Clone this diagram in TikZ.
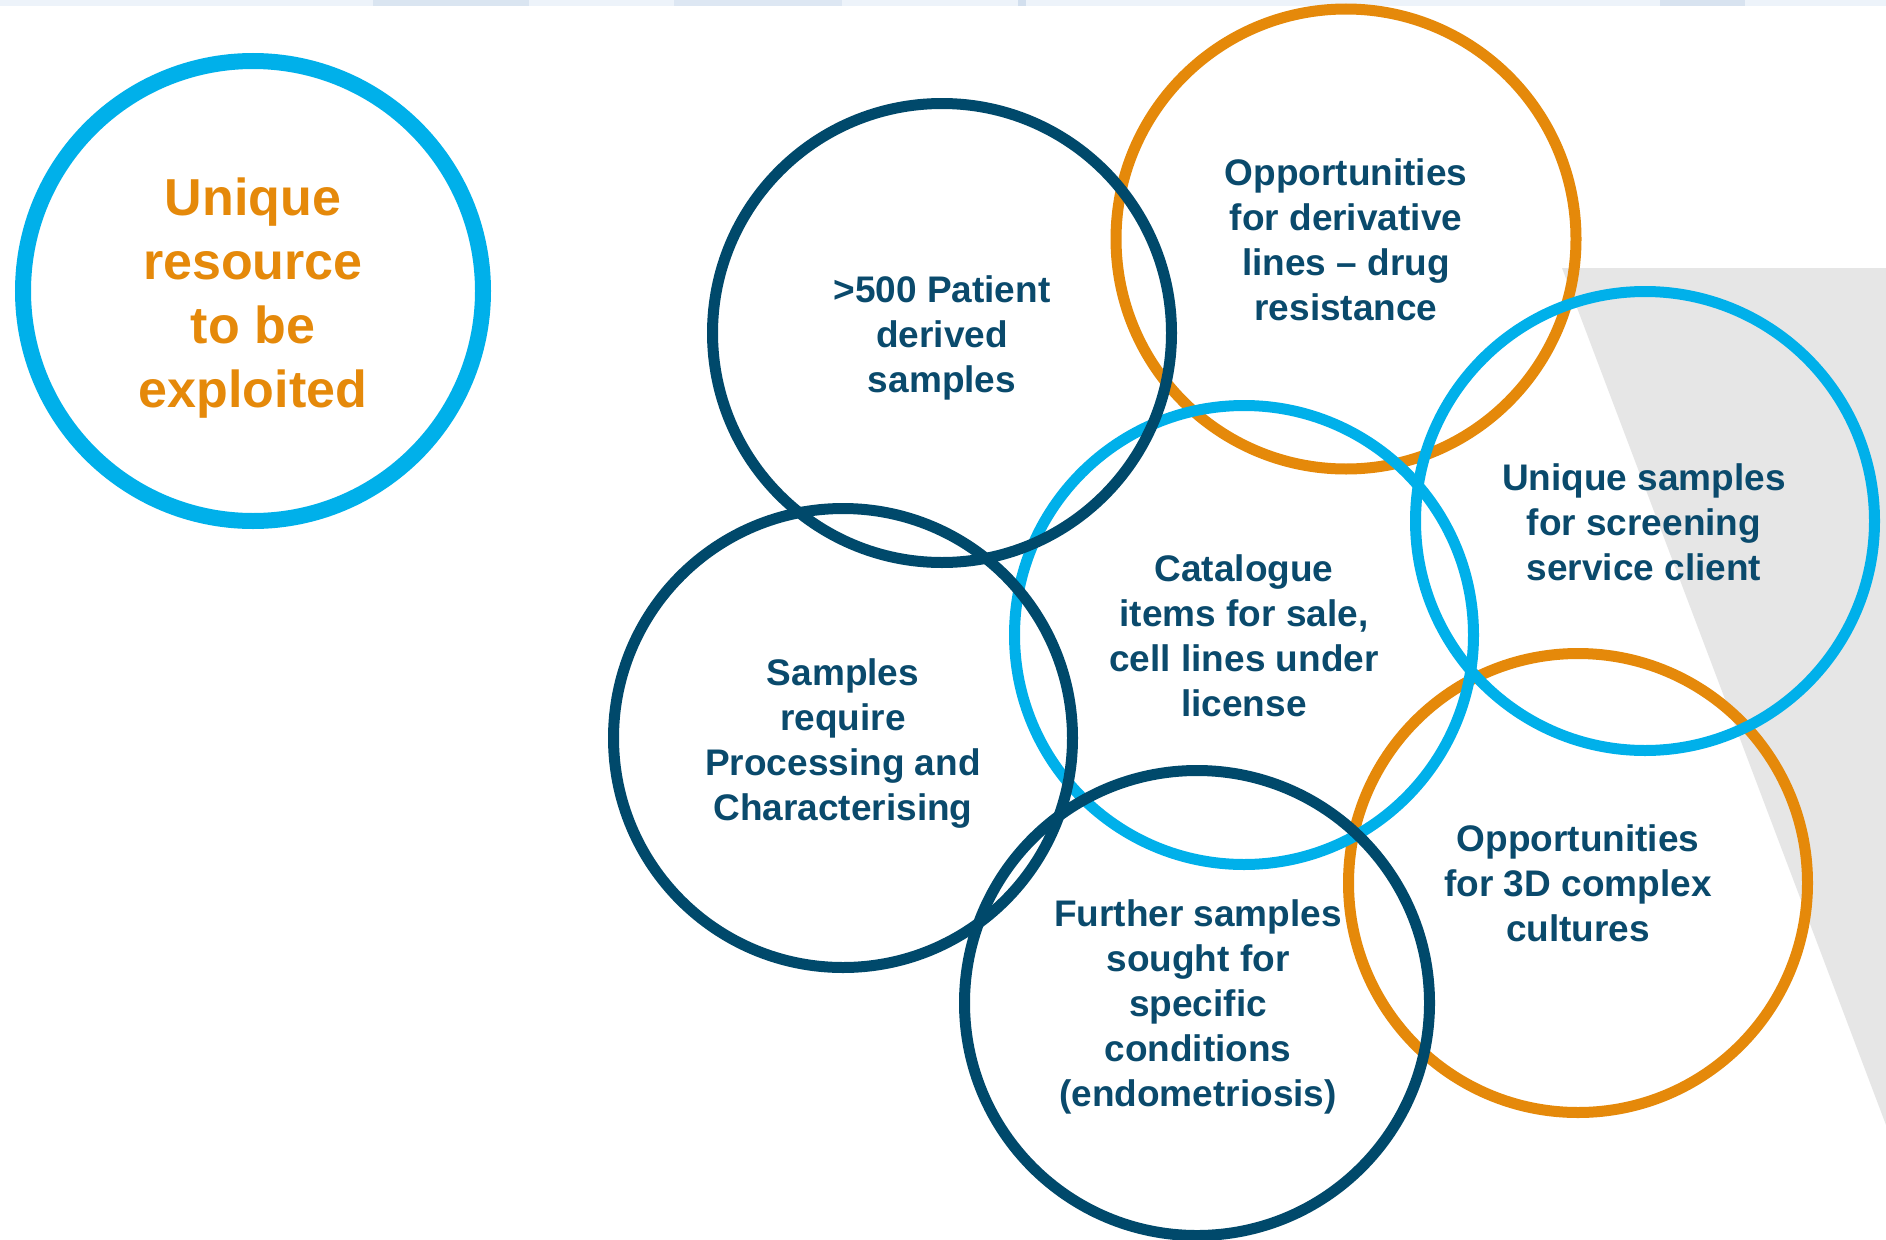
\documentclass[tikz,border=0pt]{standalone}
\usepackage{fontspec}
\setmainfont{Liberation Sans}
\definecolor{navy}{HTML}{00496B}
\definecolor{navytext}{HTML}{0A4A6C}
\definecolor{skyblue}{HTML}{00B0EA}
\definecolor{orangec}{HTML}{E5890A}
\definecolor{greyarea}{HTML}{E6E6E6}
\definecolor{bandcol}{HTML}{EDF3FA}
\definecolor{bandpatch}{HTML}{B9CDE3}
\begin{document}
\begin{tikzpicture}[x=1pt,y=-1pt,
  ring/.style={line width=11pt},
  lbl/.style={anchor=north,inner sep=0pt,align=center,text=navytext,
    font=\bfseries\fontsize{37}{45}\selectfont},
  biglbl/.style={anchor=north,inner sep=0pt,align=center,text=orangec,
    font=\bfseries\fontsize{52}{64}\selectfont}]
\useasboundingbox (0,0) rectangle (1886,1239);
\fill[white] (0,0) rectangle (1886,1239);
% top photo strip
\fill[bandcol] (0,0) rectangle (1886,6);
\fill[bandpatch,opacity=0.35] (373,0) rectangle (529,6);
\fill[bandpatch,opacity=0.3] (674,0) rectangle (842,6);
\fill[bandpatch,opacity=0.5] (1018,0) rectangle (1026,6);
\fill[bandpatch,opacity=0.4] (1660,0) rectangle (1745,6);
% grey background wedge
\fill[greyarea] (1562,268) -- (1886,268) -- (1886,1125) -- cycle;
% centres
\coordinate (c1) at (253,291);
\coordinate (c2) at (942,333);
\coordinate (c3) at (1346,239);
\coordinate (c4) at (1244,635);
\coordinate (c5) at (1645,521);
\coordinate (c6) at (843,738);
\coordinate (c7) at (1578,883);
\coordinate (c8) at (1197,1003);
% rings
\draw[skyblue,line width=16pt] (c1) circle[radius=230pt];
\draw[ring,orangec] (c3) circle[radius=230pt];
\draw[ring,orangec] (c7) circle[radius=229.5pt];
\draw[ring,skyblue] (c4) circle[radius=229.5pt];
\draw[ring,skyblue] (c5) circle[radius=229.5pt];
\draw[ring,navy] (c2) circle[radius=229.5pt];
\draw[ring,navy] (c6) circle[radius=229.5pt];
\draw[ring,navy] (c8) circle[radius=232.5pt];
% labels
\node[biglbl] (t1) at (253,215) {\smash{Unique}\\\smash{resource}\\\smash{to be}\\\smash{exploited}};
\node[lbl] (t2) at (942,302) {\smash{>500 Patient}\\\smash{derived}\\\smash{samples}};
\node[lbl] (t3) at (1346,185) {\smash{Opportunities}\\\smash{for derivative}\\\smash{lines \textendash{} drug}\\\smash{resistance}};
\node[lbl] (t4) at (1244,581) {\smash{Catalogue}\\\smash{items for sale,}\\\smash{cell lines under}\\\smash{license}};
\node[lbl] (t5) at (1644,490) {\smash{Unique samples}\\\smash{for screening}\\\smash{service client}};
\node[lbl] (t6) at (843,685) {\smash{Samples}\\\smash{require}\\\smash{Processing and}\\\smash{Characterising}};
\node[lbl] (t7) at (1578,851) {\smash{Opportunities}\\\smash{for 3D complex}\\\smash{cultures}};
\node[lbl] (t8) at (1198,926) {\smash{Further samples}\\\smash{sought for}\\\smash{specific}\\\smash{conditions}\\\smash{(endometriosis)}};
\end{tikzpicture}
\end{document}
